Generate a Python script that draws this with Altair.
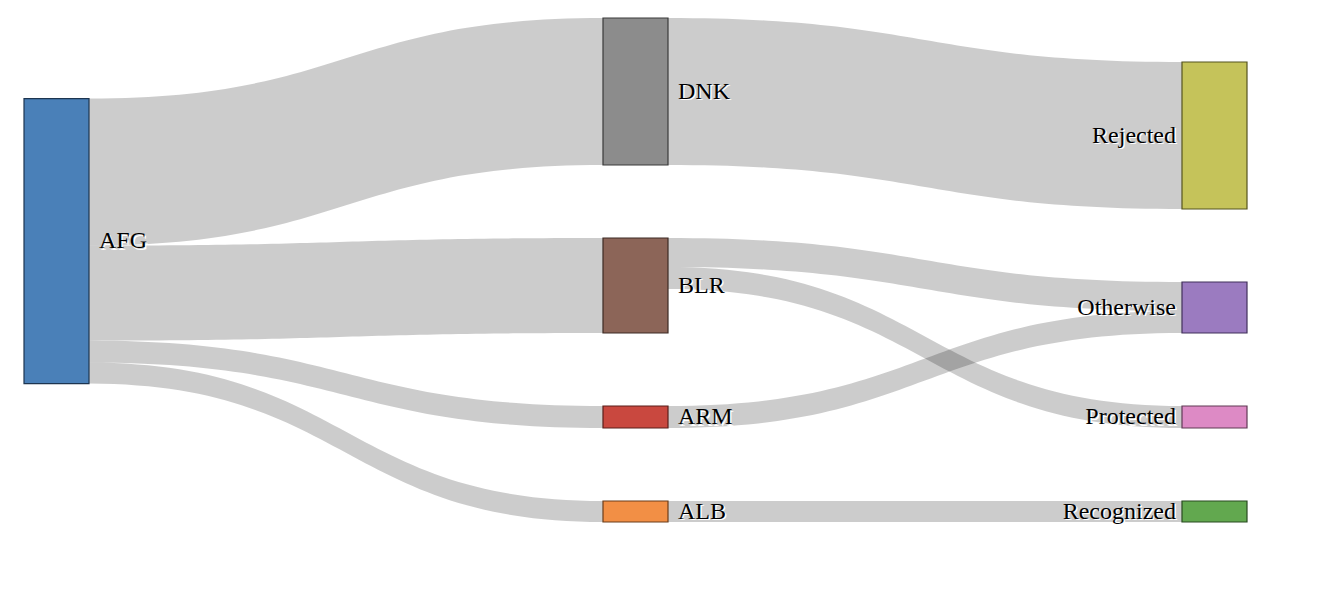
import altair as alt
import pandas as pd

# Sankey data
nodes = ["AFG", "DNK", "BLR", "ARM", "ALB", "Rejected", "Otherwise", "Protected", "Recognized"]
fills = ["#4a80b8", "#8c8c8c", "#8c6558", "#c9483f", "#f28f45", "#c5c35a", "#9b7bc0", "#dd8ac5", "#62a84f"]
strokes = ["#1d3550", "#3a3a3a", "#3d2a24", "#5a1e1a", "#6b3d1a", "#55541f", "#41305a", "#603a55", "#284a20"]

link_source = ["AFG", "AFG", "AFG", "AFG", "DNK", "BLR", "BLR", "ARM", "ALB"]
link_target = ["DNK", "BLR", "ARM", "ALB", "Rejected", "Otherwise", "Protected", "Otherwise", "Recognized"]
link_value = [147, 95, 22, 21, 147, 29, 22, 22, 21]

# layout constants (pixel units)
W, H = 1302, 578
PAD, TOP = 73, 10
NODE_W, X0, COL_STEP = 65, 16, 579

# node values and depth
val_in = {n: 0 for n in nodes}
val_out = {n: 0 for n in nodes}
for s, t, v in zip(link_source, link_target, link_value):
    val_out[s] += v
    val_in[t] += v
value = {n: max(val_in[n], val_out[n]) for n in nodes}
depth = {n: 0 for n in nodes}
for _ in nodes:
    for s, t in zip(link_source, link_target):
        depth[t] = max(depth[t], depth[s] + 1)
ncol = max(depth.values()) + 1
cols = [[n for n in nodes if depth[n] == c] for c in range(ncol)]
col_total = [sum(value[n] for n in c) + PAD * (len(c) - 1) for c in cols]
extent = max(col_total)

y0 = {}
def stack(col, top):
    y = top
    for n in col:
        y0[n] = y
        y += value[n] + PAD

# widest column from top, last column bottom-aligned
big = col_total.index(extent)
stack(cols[big], TOP)
stack(cols[-1], TOP + extent - col_total[-1])

# first column: blend of centring and straightest links
c0 = cols[0]
num = den = 0
off = 0
for n in c0:
    outs = sorted([i for i, s in enumerate(link_source) if s == n], key=lambda i: y0[link_target[i]])
    o = 0
    for i in outs:
        t = link_target[i]
        num += link_value[i] * (y0[t] + value[t] / 2 - (off + o + link_value[i] / 2))
        den += link_value[i]
        o += link_value[i]
    off += value[n] + PAD
ls_top = num / den
centred = TOP + (extent - col_total[0]) / 2
stack(c0, (ls_top + centred) / 2)

x0 = {n: X0 + depth[n] * COL_STEP for n in nodes}

# link offsets
src_off = {}
tgt_off = {}
for n in nodes:
    outs = sorted([i for i, s in enumerate(link_source) if s == n], key=lambda i: y0[link_target[i]])
    o = y0[n]
    for i in outs:
        src_off[i] = o
        o += link_value[i]
    ins = sorted([i for i, t in enumerate(link_target) if t == n], key=lambda i: y0[link_source[i]])
    o = y0[n]
    for i in ins:
        tgt_off[i] = o
        o += link_value[i]

rows = []
STEPS = 60
for i, (s, t, v) in enumerate(zip(link_source, link_target, link_value)):
    xs, xt = x0[s] + NODE_W, x0[t]
    xm = (xs + xt) / 2
    for k in range(STEPS + 1):
        u = k / STEPS
        b0, b1, b2, b3 = (1 - u) ** 3, 3 * u * (1 - u) ** 2, 3 * u ** 2 * (1 - u), u ** 3
        x = b0 * xs + (b1 + b2) * xm + b3 * xt
        ya = (b0 + b1) * src_off[i] + (b2 + b3) * tgt_off[i]
        rows.append({"link": i, "x": x, "y": ya, "y2": ya + v})
links_df = pd.DataFrame(rows)

nodes_df = pd.DataFrame({
    "name": nodes,
    "x": [x0[n] for n in nodes],
    "x2": [x0[n] + NODE_W for n in nodes],
    "y": [y0[n] for n in nodes],
    "y2": [y0[n] + value[n] for n in nodes],
    "yc": [y0[n] + value[n] / 2 for n in nodes],
    "lx": [x0[n] - 6 if depth[n] == ncol - 1 else x0[n] + NODE_W + 10 for n in nodes],
    "right": [depth[n] == ncol - 1 for n in nodes],
})

xs = alt.Scale(domain=[0, W], nice=False, zero=False)
ys = alt.Scale(domain=[H, 0], nice=False, zero=False)
X = lambda f: alt.X(f, scale=xs, axis=None)
Y = lambda f: alt.Y(f, scale=ys, axis=None)

link_layer = alt.Chart(links_df).mark_area(color="black", opacity=0.2, interpolate="linear").encode(
    x=X("x:Q"), y=Y("y:Q"), y2="y2:Q", detail="link:N"
)

node_layer = alt.Chart(nodes_df).mark_rect(strokeWidth=1.2).encode(
    x=X("x:Q"), x2="x2:Q", y=Y("y:Q"), y2="y2:Q",
    fill=alt.Color("name:N", scale=alt.Scale(domain=nodes, range=fills), legend=None),
    stroke=alt.Stroke("name:N", scale=alt.Scale(domain=nodes, range=strokes), legend=None),
)

def labels(df, align, color, d):
    return alt.Chart(df).mark_text(
        align=align, baseline="middle", font="Liberation Serif", fontSize=24, color=color, dx=d, dy=d
    ).encode(x=X("lx:Q"), y=Y("yc:Q"), text="name:N")

left_df = nodes_df[~nodes_df["right"]]
right_df = nodes_df[nodes_df["right"]]

chart = alt.layer(
    link_layer,
    node_layer,
    labels(left_df, "left", "white", 1.5),
    labels(right_df, "right", "white", 1.5),
    labels(left_df, "left", "black", 0),
    labels(right_df, "right", "black", 0),
).properties(width=W, height=H, padding=0).configure_view(stroke=None)

chart.save("out.html", embed_options={"renderer": "svg", "actions": False})
